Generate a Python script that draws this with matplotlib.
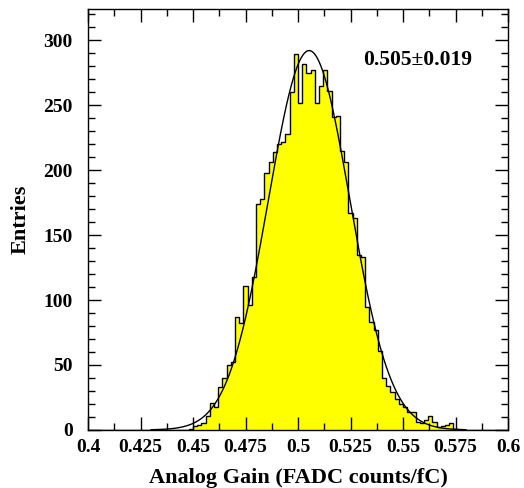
import matplotlib
matplotlib.use("Agg")
import matplotlib.pyplot as plt
import numpy as np
from matplotlib.ticker import MultipleLocator

# histogram: 100 bins of width 0.002 between 0.4 and 0.6
bin_lo = 0.4
bin_hi = 0.6
n_bins = 100

# counts for bins 23..88 (all other bins are empty)
first_bin = 23
counts_part = [
    0, 1, 3, 4, 5, 11, 21, 18, 33, 40,          # 23-32
    50, 52, 87, 82, 111, 96, 118, 174, 178, 198,  # 33-42
    206, 214, 220, 222, 228, 260, 289, 252, 282, 275,  # 43-52
    277, 252, 265, 277, 261, 241, 242, 215, 206, 167,  # 53-62
    163, 135, 133, 95, 83, 77, 61, 40, 34, 29,    # 63-72
    24, 20, 18, 14, 14, 6, 5, 8, 11, 6,           # 73-82
    2, 3, 4, 5, 1, 0,                             # 83-88
]

# gaussian fit parameters
fit_const = 292.0
fit_mean = 0.5053
fit_sigma = 0.0194
fit_range = (0.43, 0.58)

xticks = [0.4, 0.425, 0.45, 0.475, 0.5, 0.525, 0.55, 0.575, 0.6]
xtick_labels = ['0.4', '0.425', '0.45', '0.475', '0.5', '0.525', '0.55', '0.575', '0.6']

counts = np.zeros(n_bins)
counts[first_bin:first_bin + len(counts_part)] = counts_part
edges = np.linspace(bin_lo, bin_hi, n_bins + 1)

plt.rcParams['font.family'] = ['Liberation Serif', 'DejaVu Serif']
plt.rcParams['font.weight'] = 'bold'

fig = plt.figure(figsize=(5.24, 4.88), dpi=100)
ax = fig.add_axes([0.168, 0.119, 0.8015, 0.8625])

# filled histogram with black outline
ax.stairs(counts, edges, fill=True, color='#ffff00', zorder=1)
ax.stairs(counts, edges, color='black', linewidth=1.0, zorder=2)

# fitted gaussian
xf = np.linspace(fit_range[0], fit_range[1], 400)
yf = fit_const * np.exp(-0.5 * ((xf - fit_mean) / fit_sigma) ** 2)
ax.plot(xf, yf, color='black', linewidth=1.0, zorder=3)

ax.text(0.557, 284.5, '0.505\u00b10.019', fontsize=15.5, fontweight='bold',
        ha='center', va='center')

ax.set_xlim(0.4, 0.6)
ax.set_ylim(0, 324)
ax.set_xticks(xticks)
ax.set_xticklabels(xtick_labels)
ax.xaxis.set_minor_locator(MultipleLocator(0.0125))
ax.yaxis.set_major_locator(MultipleLocator(50))
ax.yaxis.set_minor_locator(MultipleLocator(10))

ax.tick_params(which='both', direction='in', top=True, right=True, width=1.0,
               labelsize=14)
ax.tick_params(which='major', length=9.4)
ax.tick_params(which='minor', length=4.7)
ax.tick_params(axis='x', pad=6.5)
ax.tick_params(axis='y', pad=11)
for s in ax.spines.values():
    s.set_linewidth(1.0)

ax.set_xlabel('Analog Gain (FADC counts/fC)', fontsize=16, fontweight='bold', labelpad=9)
ax.set_ylabel('Entries', fontsize=16, fontweight='bold', labelpad=9)

fig.savefig('out.png', dpi=100)
